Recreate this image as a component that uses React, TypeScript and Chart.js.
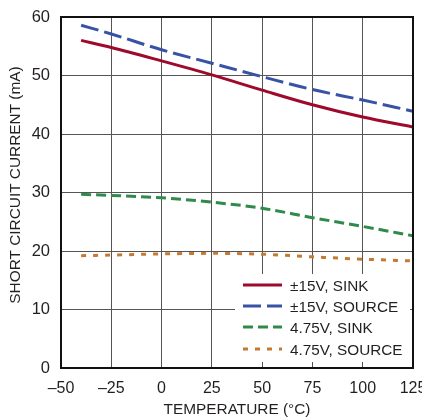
import React, { useEffect, useRef } from "react";
import { Chart, registerables } from "chart.js";

Chart.register(...registerables);

const temps = [-40, -25, 0, 25, 50, 75, 100, 125];
const sink15 = [56.0, 54.8, 52.5, 50.1, 47.5, 45.0, 42.9, 41.2];
const source15 = [58.6, 57.1, 54.4, 52.1, 49.8, 47.6, 45.8, 43.9];
const sink475 = [29.7, 29.5, 29.1, 28.35, 27.3, 25.7, 24.2, 22.6];
const source475 = [19.2, 19.3, 19.5, 19.6, 19.45, 19.0, 18.6, 18.3];
const seriesLabels = ["±15V, SINK", "±15V, SOURCE", "4.75V, SINK", "4.75V, SOURCE"];
const xTitle = "TEMPERATURE (°C)";
const yTitle = "SHORT CIRCUIT CURRENT (mA)";

const FONT = "'Liberation Sans', Arial, sans-serif";
const TEXT = "#231f20";
const colors = ["#9e0a2c", "#3953a4", "#2f8a4b", "#c57a34"];
const dashes: number[][] = [[], [18, 6], [10, 5], [5, 7]];

const customPlugin = {
  id: "customDecor",
  beforeDatasetsDraw(chart: any) {
    const ctx = chart.ctx;
    const area = chart.chartArea;
    const boxL = 235;
    const boxR = area.right - 3;
    const boxT = 274;
    const boxB = area.bottom - 6;
    ctx.save();
    ctx.fillStyle = "#ffffff";
    ctx.fillRect(boxL, boxT, boxR - boxL, boxB - boxT);
    const rowY = [285, 306, 327, 349];
    chart.data.datasets.forEach((ds: any, i: number) => {
      const y = rowY[i];
      ctx.strokeStyle = ds.borderColor;
      ctx.lineWidth = 3;
      ctx.setLineDash(ds.borderDash || []);
      ctx.beginPath();
      ctx.moveTo(243, y);
      ctx.lineTo(282, y);
      ctx.stroke();
      ctx.setLineDash([]);
      ctx.fillStyle = TEXT;
      ctx.font = "15.3px " + FONT;
      ctx.textBaseline = "alphabetic";
      ctx.textAlign = "left";
      ctx.fillText(ds.label, 290, y + 6);
    });
    ctx.restore();
  },
  afterDatasetsDraw(chart: any) {
    const ctx = chart.ctx;
    const a = chart.chartArea;
    ctx.save();
    ctx.strokeStyle = "#111";
    ctx.lineWidth = 2;
    ctx.strokeRect(a.left, a.top, a.right - a.left, a.bottom - a.top);
    ctx.restore();
  },
  afterDraw(chart: any) {
    const ctx = chart.ctx;
    const a = chart.chartArea;
    ctx.save();
    ctx.fillStyle = TEXT;
    ctx.font = "15.4px " + FONT;
    ctx.textAlign = "center";
    ctx.textBaseline = "alphabetic";
    ctx.fillText(xTitle, (a.left + a.right) / 2, 414);
    ctx.translate(19.5, 185);
    ctx.rotate(-Math.PI / 2);
    ctx.fillText(yTitle, 0, 0);
    ctx.restore();
  },
};

export default function App() {
  const ref = useRef<HTMLCanvasElement>(null);
  useEffect(() => {
    const ctx = ref.current!;
    const data = [sink15, source15, sink475, source475];
    const chart = new Chart(ctx, {
      type: "line",
      data: {
        datasets: data.map((vals, i) => ({
          label: seriesLabels[i],
          data: temps.map((t, j) => ({ x: t, y: vals[j] })),
          borderColor: colors[i],
          backgroundColor: colors[i],
          borderWidth: 3,
          borderDash: dashes[i],
          pointRadius: 0,
          cubicInterpolationMode: "monotone" as const,
          fill: false,
        })),
      },
      options: {
        responsive: false,
        animation: false,
        layout: { padding: { top: 17, right: 9, left: 0, bottom: 0 } },
        plugins: { legend: { display: false }, tooltip: { enabled: false } },
        scales: {
          x: {
            type: "linear",
            min: -50,
            max: 125,
            afterFit(scale: any) {
              scale.height = 51;
              scale.paddingLeft = 0;
              scale.paddingRight = 0;
            },
            ticks: {
              stepSize: 25,
              padding: 11,
              color: TEXT,
              font: { family: FONT, size: 16 },
              maxRotation: 0,
              callback: (v: any) => String(v).replace("-", "\u2013"),
            },
            grid: { color: "#555", lineWidth: 1, drawTicks: false },
            border: { display: false },
            title: { display: false },
          },
          y: {
            min: 0,
            max: 60,
            afterFit(scale: any) {
              scale.width = 61;
              scale.paddingTop = 0;
              scale.paddingBottom = 0;
            },
            ticks: {
              stepSize: 10,
              padding: 11,
              color: TEXT,
              font: { family: FONT, size: 16.5 },
            },
            grid: { color: "#555", lineWidth: 1, drawTicks: false },
            border: { display: false },
            title: { display: false },
          },
        },
      },
      plugins: [customPlugin],
    });
    return () => chart.destroy();
  }, []);
  return (
    <div style={{ position: "fixed", left: 0, top: 0, width: 422, height: 419, background: "#fff" }}>
      <canvas ref={ref} width={422} height={419} style={{ width: 422, height: 419 }} />
    </div>
  );
}
